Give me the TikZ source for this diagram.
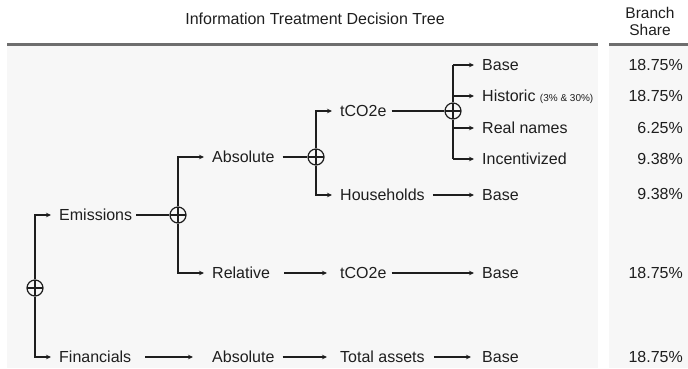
\documentclass[tikz,border=0pt]{standalone}
\usepackage{fontspec}
\setmainfont{Liberation Sans}
\usetikzlibrary{arrows.meta}
\definecolor{panel}{HTML}{F7F7F7}
\definecolor{rulec}{HTML}{6E6E6E}
\definecolor{ink}{HTML}{1E1E1E}
\tikzset{
  lab/.style={anchor=west, inner sep=0pt, text height=11.5pt, text depth=0pt, font=\fontsize{16}{19}\selectfont, text=ink},
  pct/.style={anchor=east, inner sep=0pt, text height=11.5pt, text depth=0pt, font=\fontsize{16}{19}\selectfont, text=ink},
  opl/.style={circle, draw=ink, line width=1.2pt, minimum size=16pt, inner sep=0pt,
    path picture={\draw[ink, line width=1.2pt] (path picture bounding box.west) -- (path picture bounding box.east)
      (path picture bounding box.north) -- (path picture bounding box.south);}},
  conn/.style={draw=ink, line width=1.2pt},
  arr/.style={conn, -{Stealth[length=5pt,width=4.5pt]}},
}
\begin{document}
\begin{tikzpicture}[x=1pt,y=-1pt]
\useasboundingbox (0,0) rectangle (688,368);
% panels
\fill[panel] (7,44) rectangle (598,368);
\fill[panel] (609,44) rectangle (688,368);
\draw[rulec, line width=3pt] (7,44) -- (598,44);
\draw[rulec, line width=3pt] (609,44) -- (688,44);
% headers
\node[inner sep=0pt, font=\fontsize{16}{19}\selectfont, text=ink] (title) at (315,19) {Information Treatment Decision Tree};
\node[inner sep=0pt, font=\fontsize{15.5}{18}\selectfont, text=ink, align=center] (bs) at (650,21) {Branch\\[-1pt]Share};
% decision nodes
\node[opl] (r0) at (35,288) {};
\node[opl] (r1) at (178,215) {};
\node[opl] (r2) at (316,157) {};
\node[opl] (r3) at (453,111) {};
% labels
\node[lab] (emis) at (59,215) {Emissions};
\node[lab] (fin) at (59,357) {Financials};
\node[lab] (abs) at (212,157) {Absolute};
\node[lab] (rel) at (212,273) {Relative};
\node[lab] (abs2) at (212,357) {Absolute};
\node[lab] (tco) at (340,111) {tCO2e};
\node[lab] (hh) at (340,195) {Households};
\node[lab] (tco2) at (340,273) {tCO2e};
\node[lab] (ta) at (340,357) {Total assets};
\node[lab] (b1) at (482,65) {Base};
\node[lab] (hist) at (482,96) {Historic \fontsize{10}{11}\selectfont(3\% \& 30\%)};
\node[lab] (rn) at (482,128) {Real names};
\node[lab] (inc) at (482,159) {Incentivized};
\node[lab] (b2) at (482,195) {Base};
\node[lab] (b3) at (482,273) {Base};
\node[lab] (b4) at (482,357) {Base};
% percentages
\node[pct] (p1) at (683,65) {18.75\%};
\node[pct] (p2) at (683,96) {18.75\%};
\node[pct] (p3) at (683,128) {6.25\%};
\node[pct] (p4) at (683,159) {9.38\%};
\node[pct] (p5) at (683,194) {9.38\%};
\node[pct] (p6) at (683,273) {18.75\%};
\node[pct] (p7) at (683,357) {18.75\%};
% root trunk
\draw[arr] (r0.north) |- ([xshift=-8pt]emis.west);
\draw[arr] (r0.south) |- ([xshift=-8pt]fin.west);
% level 1
\draw[conn] ([xshift=4pt]emis.east) -- (r1.west);
\draw[arr] (r1.north) |- ([xshift=-8pt]abs.west);
\draw[arr] (r1.south) |- ([xshift=-8pt]rel.west);
% level 2
\draw[conn] ([xshift=8pt]abs.east) -- (r2.west);
\draw[arr] (r2.north) |- ([xshift=-8pt]tco.west);
\draw[arr] (r2.south) |- ([xshift=-8pt]hh.west);
% level 3
\draw[conn] ([xshift=5pt]tco.east) -- (r3.west);
\draw[conn] (r3.north) -- (r3.north |- b1.west);
\draw[conn] (r3.south) -- (r3.south |- inc.west);
\draw[arr] (r3.north |- b1.west) -- ([xshift=-8pt]b1.west);
\draw[arr] (r3.north |- hist.west) -- ([xshift=-8pt]hist.west);
\draw[arr] (r3.south |- rn.west) -- ([xshift=-8pt]rn.west);
\draw[arr] (r3.south |- inc.west) -- ([xshift=-8pt]inc.west);
% chains
\draw[arr] ([xshift=8pt]hh.east) -- ([xshift=-8pt]b2.west);
\draw[arr] ([xshift=14pt]rel.east) -- ([xshift=-13pt]tco2.west);
\draw[arr] ([xshift=5pt]tco2.east) -- ([xshift=-8pt]b3.west);
\draw[arr] ([xshift=14pt]fin.east) -- ([xshift=-19pt]abs2.west);
\draw[arr] ([xshift=8pt]abs2.east) -- ([xshift=-13pt]ta.west);
\draw[arr] ([xshift=9pt]ta.east) -- ([xshift=-11pt]b4.west);
\end{tikzpicture}
\end{document}
